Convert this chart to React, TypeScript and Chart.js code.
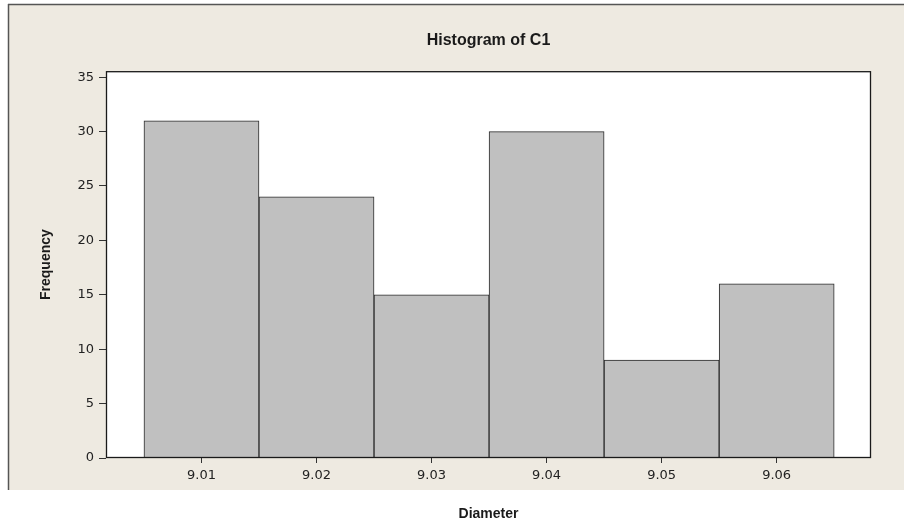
import React, { useEffect, useRef } from "react";
import { Chart, registerables } from "chart.js";

Chart.register(...registerables);

const categories = ["9.01", "9.02", "9.03", "9.04", "9.05", "9.06"];
const frequencies = [31, 24, 15, 30, 9, 16];
const yTicks = [0, 5, 10, 15, 20, 25, 30, 35];
const titleText = "Histogram of C1";
const xTitle = "Diameter";
const yTitle = "Frequency";

const W = 904;
const H = 529;

const framePlugin = {
  id: "frame",
  beforeDraw(chart: any) {
    const { ctx, chartArea } = chart;
    ctx.save();
    ctx.fillStyle = "#ffffff";
    ctx.fillRect(0, 0, W, H);
    ctx.fillStyle = "#EEEAE1";
    ctx.fillRect(8, 4, W - 8, 486);
    ctx.strokeStyle = "#555555";
    ctx.lineWidth = 1.5;
    ctx.beginPath();
    ctx.moveTo(8, 4.5);
    ctx.lineTo(W, 4.5);
    ctx.moveTo(8.5, 4);
    ctx.lineTo(8.5, 490);
    ctx.stroke();
    ctx.fillStyle = "#ffffff";
    ctx.fillRect(chartArea.left, chartArea.top, chartArea.right - chartArea.left, chartArea.bottom - chartArea.top);
    ctx.restore();
  },
  afterDatasetsDraw(chart: any) {
    const { ctx, chartArea } = chart;
    ctx.save();
    ctx.strokeStyle = "#1a1a1a";
    ctx.lineWidth = 1.3;
    ctx.strokeRect(chartArea.left + 0.5, chartArea.top + 0.5, chartArea.right - chartArea.left - 1, chartArea.bottom - chartArea.top - 1);
    ctx.restore();
  },
};

export default function App() {
  const ref = useRef<HTMLCanvasElement>(null);

  useEffect(() => {
    if (!ref.current) return;
    const centers = categories.map((c) => parseFloat(c));
    const chart = new Chart(ref.current, {
      type: "bar",
      data: {
        datasets: [
          {
            data: centers.map((x, i) => ({ x, y: frequencies[i] })),
            backgroundColor: "#C0C0C0",
            borderColor: "#2a2a2a",
            borderWidth: 1,
            barPercentage: 1,
            categoryPercentage: 1,
          } as any,
        ],
      },
      options: {
        responsive: false,
        animation: false,
        devicePixelRatio: 1,
        layout: { padding: { left: 0, right: 33, top: 0, bottom: 0 } },
        plugins: {
          legend: { display: false },
          tooltip: { enabled: false },
          title: {
            display: true,
            text: titleText,
            fullSize: false,
            color: "#1a1a1a",
            font: { family: "'Liberation Sans', Arial, sans-serif", size: 16, weight: "bold" },
            padding: { top: 31, bottom: 21 },
          } as any,
        },
        scales: {
          x: {
            type: "linear",
            offset: false,
            min: 9.0017,
            max: 9.0682,
            afterBuildTicks: (s: any) => {
              s.ticks = centers.map((v) => ({ value: v }));
            },
            afterFit: (s: any) => {
              s.height = 71;
            },
            grid: { offset: false, drawOnChartArea: false, drawTicks: true, tickLength: 5, color: "#333333" },
            border: { display: false },
            ticks: {
              autoSkip: false,
              maxRotation: 0,
              padding: 5,
              color: "#222222",
              font: { family: "'DejaVu Sans', Verdana, sans-serif", size: 13 },
              callback: (_v: any, i: number) => categories[i],
            },
            title: {
              display: true,
              text: xTitle,
              color: "#1a1a1a",
              font: { family: "'Liberation Sans', Arial, sans-serif", size: 14, weight: "bold" },
              padding: { top: 0, bottom: 6 },
            },
          },
          y: {
            type: "linear",
            min: 0,
            max: 35.55,
            afterBuildTicks: (s: any) => {
              s.ticks = yTicks.map((v) => ({ value: v }));
            },
            afterFit: (s: any) => {
              s.width = 106;
            },
            grid: { drawOnChartArea: false, drawTicks: true, tickLength: 7, color: "#333333" },
            border: { display: false },
            ticks: {
              padding: 5,
              color: "#222222",
              font: { family: "'DejaVu Sans', Verdana, sans-serif", size: 13 },
            },
            title: {
              display: true,
              text: yTitle,
              color: "#1a1a1a",
              font: { family: "'Liberation Sans', Arial, sans-serif", size: 14, weight: "bold" },
              padding: { top: 38, bottom: 0 },
            },
          },
        },
      },
      plugins: [framePlugin],
    } as any);
    return () => chart.destroy();
  }, []);

  return (
    <div style={{ position: "fixed", left: 0, top: 0, width: W, height: H, background: "#fff" }}>
      <canvas ref={ref} width={W} height={H} style={{ width: W, height: H, display: "block" }} />
    </div>
  );
}
